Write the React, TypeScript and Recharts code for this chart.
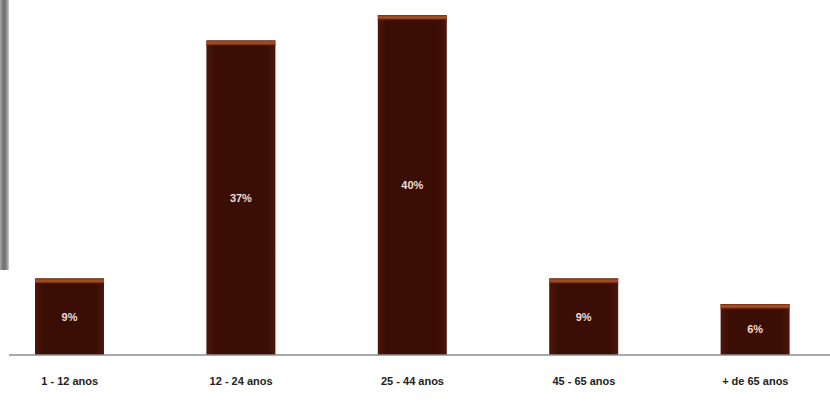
import { BarChart, Bar, XAxis, YAxis, LabelList } from 'recharts'

const categories = ['1 - 12 anos', '12 - 24 anos', '25 - 44 anos', '45 - 65 anos', '+ de 65 anos']
const shares = [9, 37, 40, 9, 6]

const data = categories.map((name, i) => ({ name, value: shares[i] }))

interface BarShapeProps {
  x?: number
  y?: number
  width?: number
  height?: number
}

const BrownBar = ({ x = 0, y = 0, width = 0, height = 0 }: BarShapeProps) => {
  if (height <= 0) return null
  return (
    <g>
      <rect x={x} y={y} width={width} height={height} fill="url(#barBody)" />
      <rect x={x} y={y} width={width} height={5} fill="url(#barCap)" />
    </g>
  )
}

export default function App() {
  return (
    <div style={{ position: 'absolute', left: 0, top: 0, width: 830, height: 403, background: '#fff', overflow: 'hidden' }}>
      <div
        style={{
          position: 'absolute',
          left: 0,
          top: 0,
          width: 9,
          height: 270,
          background: 'linear-gradient(to right, #a8a8a8, #6e6e6e 40%, #858585 70%, #cfcfcf)',
        }}
      />
      <div style={{ position: 'absolute', left: 9, top: 0, width: 821, height: 403, overflow: 'hidden' }}>
        <div style={{ position: 'absolute', left: -24.7, top: 0 }}>
          <BarChart
            width={857}
            height={403}
            data={data}
            margin={{ top: 15, right: 0, left: 0, bottom: 0 }}
            barCategoryGap="30%"
          >
            <defs>
              <linearGradient id="barBody" x1="0" y1="0" x2="1" y2="0">
                <stop offset="0%" stopColor="#4d160a" />
                <stop offset="12%" stopColor="#3a0e05" />
                <stop offset="88%" stopColor="#3a0e05" />
                <stop offset="100%" stopColor="#4d160a" />
              </linearGradient>
              <linearGradient id="barCap" x1="0" y1="0" x2="0" y2="1">
                <stop offset="0%" stopColor="#7a2e10" />
                <stop offset="50%" stopColor="#a9552a" />
                <stop offset="100%" stopColor="#5a1c0a" />
              </linearGradient>
            </defs>
            <XAxis
              dataKey="name"
              height={48}
              axisLine={{ stroke: '#8c8c8c', strokeWidth: 1.5 }}
              tickLine={false}
              tickMargin={16}
              tick={{ fontSize: 11, fontWeight: 'bold', fill: '#222', fontFamily: 'Liberation Sans, Arial, sans-serif' }}
            />
            <YAxis hide domain={[0, 40]} />
            <Bar dataKey="value" barSize={69} shape={<BrownBar />} isAnimationActive={false}>
              <LabelList
                dataKey="value"
                position="center"
                formatter={(v: number) => `${v}%`}
                style={{ fontSize: 11, fontWeight: 'bold', fill: '#f2dcd4', fontFamily: 'Liberation Sans, Arial, sans-serif' }}
              />
            </Bar>
          </BarChart>
        </div>
      </div>
    </div>
  )
}
